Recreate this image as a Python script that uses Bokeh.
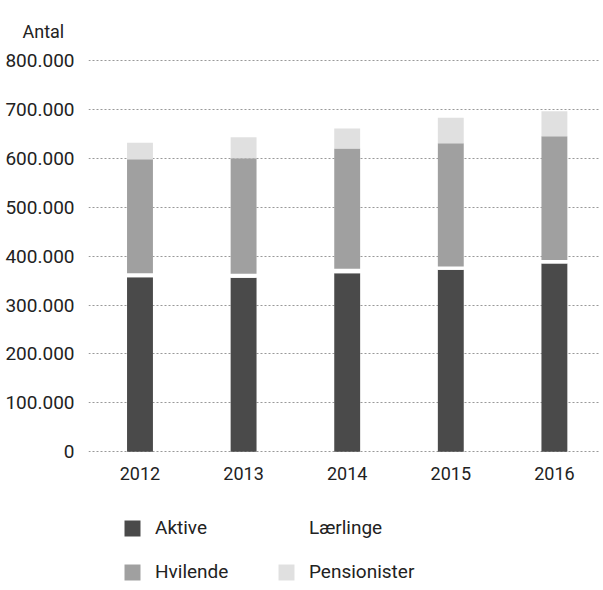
from bokeh.plotting import figure
from bokeh.models import Range1d, FixedTicker, ColumnDataSource, Legend, LegendItem
from bokeh.embed import file_html
from bokeh.resources import INLINE

years = ["2012", "2013", "2014", "2015", "2016"]
aktive = [357000, 356000, 365000, 372000, 385000]
laerlinge = [8000, 8000, 9000, 7000, 7000]
hvilende = [233000, 236000, 246000, 252000, 253000]
pensionister = [34000, 43000, 41000, 52000, 51000]
series_names = ["Aktive", "Lærlinge", "Hvilende", "Pensionister"]
colors = ["#4a4a4a", "#ffffff", "#a0a0a0", "#e0e0e0"]
legend_order = ["Aktive", "Hvilende", "Lærlinge", "Pensionister"]
y_ticks = [0, 100000, 200000, 300000, 400000, 500000, 600000, 700000, 800000]
y_tick_labels = ["0", "100.000", "200.000", "300.000", "400.000", "500.000",
                 "600.000", "700.000", "800.000"]

FONT = "Roboto"
xs = list(range(len(years)))
source = ColumnDataSource(dict(x=xs, Aktive=aktive, Lærlinge=laerlinge,
                               Hvilende=hvilende, Pensionister=pensionister))

p = figure(width=600, height=588, output_backend="svg", toolbar_location=None,
           x_range=Range1d(-0.497, 4.445), y_range=Range1d(-279600, 802000),
           min_border_left=88, min_border_right=0, min_border_top=58,
           min_border_bottom=0, title="Antal")
p.outline_line_color = None
p.background_fill_color = "white"

renderers = p.vbar_stack(series_names, x="x", width=0.25, source=source,
                         color=colors, line_color=None)
rmap = dict(zip(series_names, renderers))

p.title.text_font = FONT
p.title.text_font_size = "18px"
p.title.text_font_style = "normal"
p.title.text_color = "#222222"
p.title.align = "left"
p.title.offset = -66
p.title.standoff = 36

p.xaxis.ticker = FixedTicker(ticks=xs)
p.xaxis.major_label_overrides = {i: y for i, y in enumerate(years)}
p.xaxis.fixed_location = 0
p.yaxis.ticker = FixedTicker(ticks=y_ticks)
p.yaxis.major_label_overrides = {t: l for t, l in zip(y_ticks, y_tick_labels)}
for ax in (p.xaxis, p.yaxis):
    ax.axis_line_color = None
    ax.major_tick_line_color = None
    ax.minor_tick_line_color = None
    ax.major_label_text_font = FONT
    ax.major_label_text_font_size = "18px"
    ax.major_label_text_color = "#222222"
p.yaxis.major_label_text_font_size = "19px"
p.xaxis.major_label_standoff = 9
p.yaxis.major_label_standoff = 8

p.xgrid.grid_line_color = None
p.ygrid.grid_line_color = "#999999"
p.ygrid.grid_line_dash = "2 2"
p.ygrid.grid_line_width = 1
p.ygrid.ticker = FixedTicker(ticks=y_ticks)

items = [LegendItem(label=n, renderers=[rmap[n]]) for n in legend_order]
legend = Legend(items=items, ncols=2, location=(34, 5))
legend.border_line_color = None
legend.background_fill_alpha = 0
legend.margin = 0
legend.padding = 0
legend.glyph_width = 20
legend.glyph_height = 20
legend.label_height = 20
legend.label_width = 100
legend.label_standoff = 13
legend.spacing = 21
legend.label_text_font = FONT
legend.label_text_font_size = "19px"
legend.label_text_color = "#222222"
p.add_layout(legend, "center")

open("out.html", "w").write(file_html(p, INLINE))
